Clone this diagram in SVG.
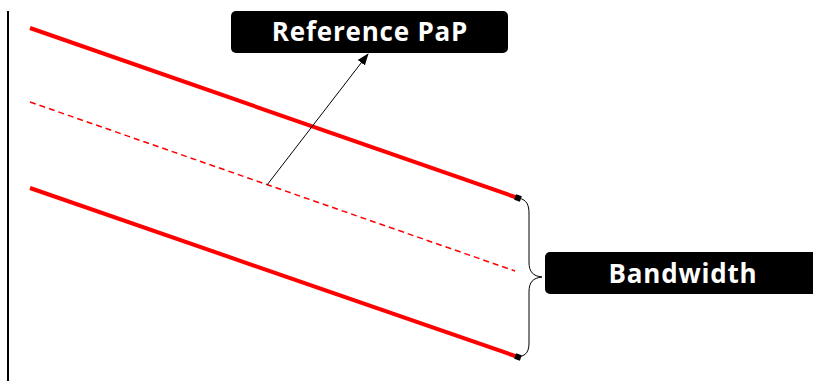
<svg xmlns="http://www.w3.org/2000/svg" width="813" height="381" viewBox="0 0 813 381">
<style>
.red{stroke:#ff0000;stroke-width:4;fill:none}
.dash{stroke:#ff0000;stroke-width:1.5;fill:none;stroke-dasharray:6 4}
.box{fill:#000}
.lbl{fill:#fff;font-family:"Open Sans","Noto Sans",sans-serif;font-weight:bold;text-anchor:middle;font-size:26px;letter-spacing:0.8px}
.thin{stroke:#000;stroke-width:1;fill:none}
</style>
<defs>
<marker id="ah" markerWidth="12" markerHeight="10" refX="11" refY="5" orient="auto" markerUnits="userSpaceOnUse">
<path d="M0,0.5 L12,5 L0,9.5 Z" fill="#000"/>
</marker>
</defs>
<rect width="813" height="381" fill="#fff"/>
<g id="axis"><line x1="8" y1="11" x2="8" y2="381" stroke="#000" stroke-width="2"/></g>
<g id="lines">
<line class="red" x1="30" y1="28" x2="518" y2="198"/>
<line class="dash" x1="30" y1="102" x2="515" y2="271"/>
<line class="red" x1="30" y1="188" x2="518" y2="357"/>
<rect x="515" y="195" width="6" height="6" fill="#000" transform="rotate(19 518 198)"/>
<rect x="515" y="354" width="6" height="6" fill="#000" transform="rotate(19 518 357)"/>
</g>
<g id="connectors">
<line class="thin" x1="267" y1="185" x2="368" y2="54" marker-end="url(#ah)"/>
<path class="thin" d="M519,198 C527,200 529,205 529,214 L529,262 C529,272 533,276 542,277 C533,278 529,282 529,292 L529,342 C529,351 527,355 519,357"/>
</g>
<g id="ref">
<rect class="box" x="231" y="11" width="277" height="42" rx="5"/>
<text class="lbl" x="370" y="41">Reference PaP</text>
</g>
<g id="bw">
<rect class="box" x="545" y="252" width="275" height="42" rx="5"/>
<text class="lbl" x="683" y="283">Bandwidth</text>
</g>
</svg>
